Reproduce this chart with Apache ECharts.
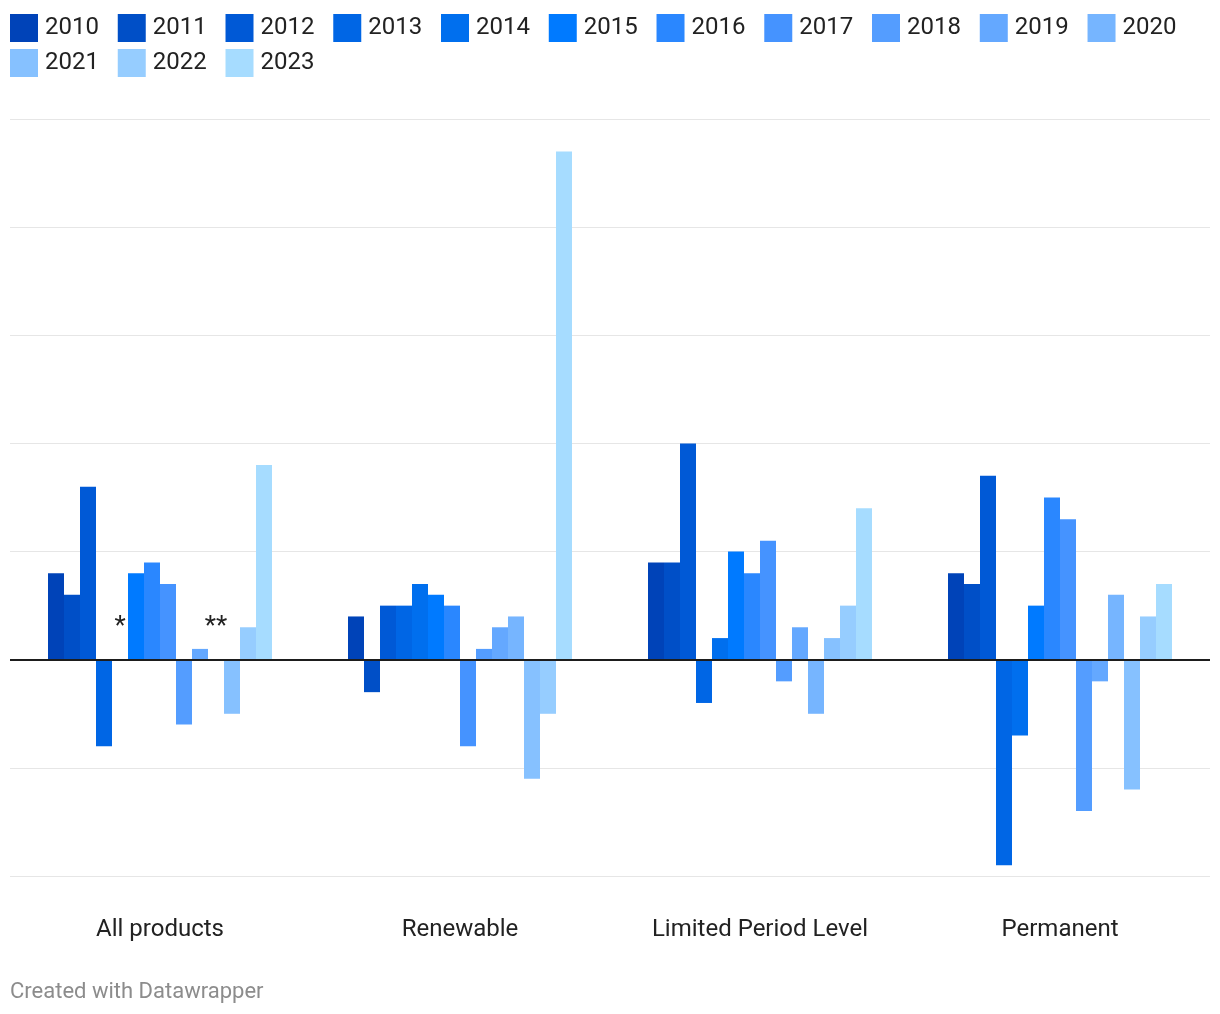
<!DOCTYPE html>
<html>
<head>
<meta charset="utf-8">
<script src="https://cdn.jsdelivr.net/npm/echarts@6/dist/echarts.min.js"></script>
<style>
html,body{margin:0;padding:0;background:#fff;}
#chart{width:1220px;height:1014px;}
</style>
</head>
<body>
<div id="chart"></div>
<script>
const categories = ['All products', 'Renewable', 'Limited Period Level', 'Permanent'];
const years = ['2010','2011','2012','2013','2014','2015','2016','2017','2018','2019','2020','2021','2022','2023'];
const v2010 = [0.8, 0.4, 0.9, 0.8];
const v2011 = [0.6, -0.3, 0.9, 0.7];
const v2012 = [1.6, 0.5, 2.0, 1.7];
const v2013 = [-0.8, 0.5, -0.4, -1.9];
const v2014 = [null, 0.7, 0.2, -0.7];
const v2015 = [0.8, 0.6, 1.0, 0.5];
const v2016 = [0.9, 0.5, 0.8, 1.5];
const v2017 = [0.7, -0.8, 1.1, 1.3];
const v2018 = [-0.6, 0.1, -0.2, -1.4];
const v2019 = [0.1, 0.3, 0.3, -0.2];
const v2020 = [null, 0.4, -0.5, 0.6];
const v2021 = [-0.5, -1.1, 0.2, -1.2];
const v2022 = [0.3, -0.5, 0.5, 0.4];
const v2023 = [1.8, 4.7, 1.4, 0.7];
const seriesValues = [v2010, v2011, v2012, v2013, v2014, v2015, v2016, v2017, v2018, v2019, v2020, v2021, v2022, v2023];
// footnote markers for missing values: [year, category, mark]
const missingMarks = [['2014', 'All products', '*'], ['2020', 'All products', '**']];
const colors = ['#0043b8','#004fc7','#0059d6','#0066e5','#006fee','#007aff','#2a87ff','#4593ff','#549dff','#64a8ff','#76b5ff','#86c1ff','#96cdff','#a6dcff'];

const series = years.map((y, i) => {
  const data = seriesValues[i].map((v, j) => {
    if (v === null) {
      const m = missingMarks.find(mm => mm[0] === y && mm[1] === categories[j]);
      if (m) {
        return {value: 0, label: {show: true, formatter: m[2], position: 'top', distance: 19,
          fontSize: 26, color: '#222', fontFamily: 'Roboto'}};
      }
      return null;
    }
    return v;
  });
  const s = {
    name: y, type: 'bar', data: data, barWidth: 16, barGap: 0,
    itemStyle: {color: colors[i]}, silent: true
  };
  if (i === years.length - 1) {
    s.markLine = {
      silent: true, symbol: 'none', label: {show: false},
      lineStyle: {color: '#1d1d1d', width: 2, type: 'solid'},
      data: [{yAxis: 0}], animation: false
    };
  }
  return s;
});

const legendBase = {
  left: 10, padding: 0,
  itemWidth: 28, itemHeight: 28, itemGap: 18.8,
  icon: 'rect', selectedMode: false,
  textStyle: {fontSize: 24, color: '#222', fontFamily: 'Roboto', padding: [0, 0, 0, 2]}
};

const chart = echarts.init(document.getElementById('chart'), null, {renderer: 'canvas'});
chart.setOption({
  animation: false,
  color: colors,
  textStyle: {fontFamily: 'Roboto'},
  legend: [
    Object.assign({}, legendBase, {top: 14, data: years.slice(0, 11)}),
    Object.assign({}, legendBase, {top: 49, data: years.slice(11)})
  ],
  grid: {left: 10, right: 10, top: 119, bottom: 138, containLabel: false},
  xAxis: {
    type: 'category', data: categories,
    axisLine: {show: false}, axisTick: {show: false},
    axisLabel: {fontSize: 24, color: '#222', margin: 42, fontFamily: 'Roboto'},
    splitLine: {show: false}
  },
  yAxis: {
    type: 'value', min: -2, max: 5, interval: 1,
    axisLabel: {show: false}, axisLine: {show: false}, axisTick: {show: false},
    splitLine: {show: true, lineStyle: {color: '#e6e6e6', width: 1}}
  },
  graphic: [{
    type: 'text', left: 10, top: 981,
    style: {text: 'Created with Datawrapper', fontSize: 22, fill: '#8c8c8c', fontFamily: 'Roboto'}
  }],
  series: series
});
</script>
</body>
</html>
